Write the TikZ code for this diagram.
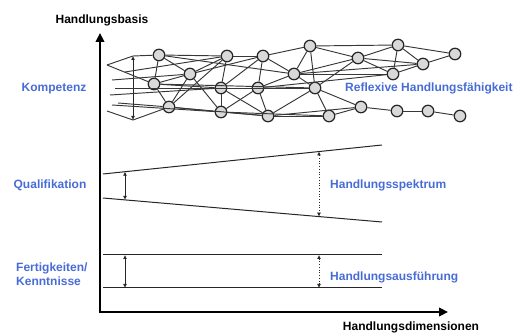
\documentclass[tikz,border=0pt]{standalone}
\usepackage{fontspec}
\setmainfont{Liberation Sans}
\usetikzlibrary{arrows.meta}
\definecolor{lblue}{RGB}{72,108,214}
\begin{document}
\begin{tikzpicture}[x=1pt,y=-1pt,
  knot/.style={circle,draw=black!85,fill=black!15,line width=1.2pt,minimum size=11.5pt,inner sep=0pt},
  net/.style={draw=black!78,line width=0.95pt},
  axis/.style={line width=2.6pt,line join=miter,{Triangle[length=9pt,width=8.5pt]}-{Triangle[length=9pt,width=8.5pt]}},
  bl/.style={text=lblue,font=\fontsize{12}{13.5}\selectfont\bfseries,inner sep=0pt},
  bk/.style={text=black,font=\fontsize{12}{13.5}\selectfont\bfseries,inner sep=0pt},
  guide/.style={line width=1pt,draw=black!85},
  span/.style={line width=0.75pt,draw=black!85,{Latex[length=4pt,width=4pt]}-{Latex[length=4pt,width=4pt]}},
  dspan/.style={span,dotted}
  ]
\useasboundingbox (0,0) rectangle (523,334);

% axes
\coordinate (ytop) at (100,33);
\coordinate (orig) at (100,312);
\coordinate (xend) at (448,312);
\draw[axis] (ytop) -- (orig) -- (xend);
\node[bk] (ylab) at (102,20) {Handlungsbasis};
\node[bk] (xlab) at (411,327) {Handlungsdimensionen};

% network nodes
\node[knot] (n1) at (159,55) {};
\node[knot] (n2) at (190,74) {};
\node[knot] (n3) at (154,84) {};
\node[knot] (n4) at (169,107) {};
\node[knot] (n5) at (227,56) {};
\node[knot] (n6) at (221,88) {};
\node[knot] (n7) at (221,112) {};
\node[knot] (n8) at (263,56) {};
\node[knot] (n9) at (310,46) {};
\node[knot] (n10) at (294,74) {};
\node[knot] (n11) at (258,88) {};
\node[knot] (n12) at (315,88) {};
\node[knot] (n13) at (268,116) {};
\node[knot] (n14) at (329,116) {};
\node[knot] (n15) at (358,58) {};
\node[knot] (n16) at (398,45) {};
\node[knot] (n17) at (423,64) {};
\node[knot] (n18) at (455,54) {};
\node[knot] (n19) at (393,74) {};
\node[knot] (n20) at (361,107) {};
\node[knot] (n21) at (397,111) {};
\node[knot] (n22) at (428,111) {};
\node[knot] (n23) at (460,116) {};

% left free ends
\coordinate (c1) at (107,65);
\coordinate (c2) at (107,111);
\coordinate (atop) at (133,56);
\coordinate (abot) at (133,120);
\coordinate (c3) at (112,80);
\coordinate (c4) at (110,95);
\coordinate (c5) at (118,103);
\coordinate (c6) at (125,72);
\coordinate (c7) at (115,88);
\coordinate (c8) at (112,105);

\draw[net] (c1) -- (atop) -- (n1);
\draw[net] (c2) -- (abot) -- (n4);
\draw[span] (atop) -- (abot);
\draw[net] (c1) -- (n3);
\draw[net] (c3) -- (n2);
\draw[net] (c4) -- (n6);
\draw[net] (c5) -- (n4);
\draw[net] (c6) -- (n5);
\draw[net] (c7) -- (n11);
\draw[net] (c8) -- (n7);

\foreach \a/\b in {n1/n2,n1/n3,n1/n5,n2/n5,n2/n4,n3/n4,n3/n2,n2/n7,n4/n5,n5/n6,n6/n7,n4/n7,
  n3/n6,n5/n8,n6/n8,n8/n9,n8/n11,n8/n10,n11/n10,n6/n11,n7/n11,n11/n13,n6/n13,n7/n13,
  n9/n10,n10/n12,n9/n12,n11/n12,n12/n13,n12/n14,n13/n14,n9/n16,n9/n15,n10/n15,n15/n16,
  n15/n17,n15/n19,n16/n17,n16/n18,n17/n18,n19/n17,n19/n16,n10/n19,n12/n15,n12/n20,n14/n20,
  n20/n21,n21/n22,n22/n23,
  n1/n10,n3/n12,n2/n8,n4/n13,n7/n14,n11/n19,n10/n17,n6/n12,n13/n20}
  \draw[net] (\a) -- (\b);

% Qualifikation
\coordinate (qa) at (103,174);
\coordinate (qb) at (382,145);
\coordinate (qc) at (103,198);
\coordinate (qd) at (382,222);
\draw[guide] (qa) -- (qb);
\draw[guide] (qc) -- (qd);
\coordinate (qs1) at (125,171.7);
\coordinate (qs2) at (125,199.9);
\coordinate (qd1) at (319,151.5);
\coordinate (qd2) at (319,216.6);
\draw[span] (qs1) -- (qs2);
\draw[dspan] (qd1) -- (qd2);

% Fertigkeiten
\coordinate (fa) at (103,255);
\coordinate (fb) at (382,255);
\coordinate (fc) at (103,288);
\coordinate (fd) at (382,288);
\draw[guide] (fa) -- (fb);
\draw[guide] (fc) -- (fd);
\coordinate (fs1) at (125,255);
\coordinate (fs2) at (125,288);
\coordinate (fd1) at (319,255);
\coordinate (fd2) at (319,288);
\draw[span] (fs1) -- (fs2);
\draw[dspan] (fd1) -- (fd2);

% labels
\node[bl] (komp) at (54,89) {Kompetenz};
\node[bl,anchor=west] (refl) at (345,88) {Reflexive Handlungsfähigkeit};
\node[bl] (qual) at (50,185) {Qualifikation};
\node[bl,anchor=west] (spek) at (330,185) {Handlungsspektrum};
\node[bl,anchor=west,align=left] (fert) at (16,274) {Fertigkeiten/\\Kenntnisse};
\node[bl,anchor=west] (ausf) at (330,277) {Handlungsausführung};
\end{tikzpicture}
\end{document}
